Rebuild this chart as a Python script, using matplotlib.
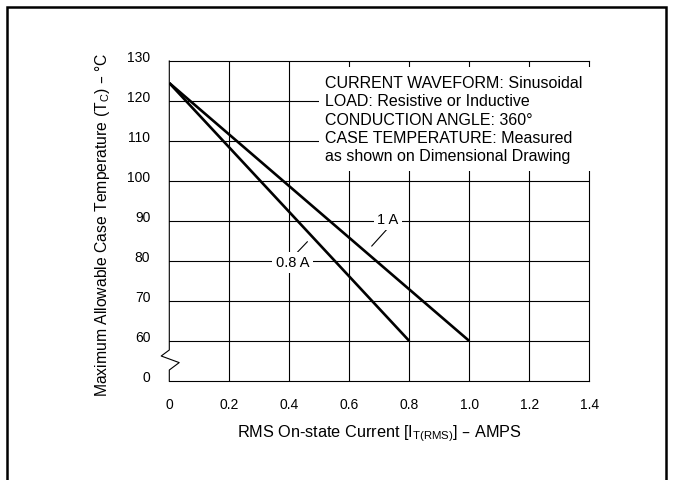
import matplotlib
matplotlib.use("Agg")
import matplotlib.pyplot as plt
from matplotlib.lines import Line2D
from matplotlib.patches import Rectangle
from matplotlib.transforms import ScaledTranslation

plt.rcParams['font.family'] = ['Liberation Sans', 'DejaVu Sans']

# ---- data ----
current_08A = [0.0, 0.8]
temp_08A = [124.5, 60.0]
current_1A = [0.0, 1.0]
temp_1A = [124.5, 60.0]

x_ticks = [0, 0.2, 0.4, 0.6, 0.8, 1.0, 1.2, 1.4]
x_tick_labels = ['0', '0.2', '0.4', '0.6', '0.8', '1.0', '1.2', '1.4']
y_ticks = [50, 60, 70, 80, 90, 100, 110, 120, 130]
y_tick_labels = ['0', '60', '70', '80', '90', '100', '110', '120', '130']

notes = ["CURRENT WAVEFORM: Sinusoidal",
         "LOAD: Resistive or Inductive",
         "CONDUCTION ANGLE: 360°",
         "CASE TEMPERATURE: Measured",
         "as shown on Dimensional Drawing"]

W, H = 673, 480
fig = plt.figure(figsize=(W / 100, H / 100), dpi=100)
ax = fig.add_axes([169.3 / W, 1 - 381 / H, 420 / W, 320 / H])

ax.set_xlim(0, 1.4)
ax.set_ylim(50, 130)

# grid
for xv in x_ticks[1:-1]:
    ax.plot([xv, xv], [50, 130], color='black', lw=0.8, zorder=1)
for yv in y_ticks[1:-1]:
    ax.plot([0, 1.4], [yv, yv], color='black', lw=0.8, zorder=1)

# curves
ax.plot(current_08A, temp_08A, color='black', lw=1.9, zorder=3, solid_capstyle='butt')
ax.plot(current_1A, temp_1A, color='black', lw=1.9, zorder=3, solid_capstyle='butt')

# spines
for s in ['top', 'right', 'bottom']:
    ax.spines[s].set_linewidth(0.8)
ax.spines['left'].set_visible(False)
# left spine with axis break
ax.plot([0, 0, 0.033, -0.027, 0, 0], [50, 52.75, 54.6, 56.25, 57.75, 130],
        color='black', lw=0.8, clip_on=False, zorder=4)

ax.set_xticks(x_ticks)
ax.set_xticklabels(x_tick_labels)
ax.set_yticks(y_ticks)
ax.set_yticklabels(y_tick_labels)
ax.tick_params(length=0, labelsize=10)
ax.tick_params(axis='y', pad=13.7)
ax.tick_params(axis='x', pad=12.5)
off = ScaledTranslation(0, 4 / 100, fig.dpi_scale_trans)
for lab in ax.get_yticklabels():
    lab.set_transform(lab.get_transform() + off)

# notes box
ax.add_patch(Rectangle((0.499, 102.4), 0.915, 26.1, facecolor='white',
                       edgecolor='none', zorder=5, clip_on=False))
ax.text(0.519, 124.6, "\n".join(notes), fontsize=11.5, va='top', ha='left',
        linespacing=1.27, zorder=6,
        transform=ax.transData + ScaledTranslation(0, 6.5 / 100, fig.dpi_scale_trans))

# curve labels
ax.text(0.729, 90.3, "1 A", fontsize=10.5, ha='center', va='center', zorder=6,
        bbox=dict(facecolor='white', edgecolor='none', pad=2.5))
ax.plot([0.725, 0.675], [87.9, 83.75], color='black', lw=0.8, zorder=2)
ax.text(0.411, 79.6, "0.8 A", fontsize=10.5, ha='center', va='center', zorder=6,
        bbox=dict(facecolor='white', edgecolor='none', pad=2.5))
ax.plot([0.427, 0.46], [82.2, 84.8], color='black', lw=0.8, zorder=2)

ax.set_xlabel(r"RMS On-state Current [I$_{\mathregular{T(RMS)}}$] – AMPS", fontsize=11.7, labelpad=8)
ax.set_ylabel(r"Maximum Allowable Case Temperature (T$_{\mathregular{C}}$) – °C", fontsize=11.3)
ax.yaxis.set_label_coords(-0.1355, 0.4875)

# outer frame
fx = lambda px: px / W
fy = lambda py: 1 - py / H
fig.add_artist(Line2D([fx(7), fx(7), fx(666), fx(666)], [fy(490), fy(7), fy(7), fy(490)],
                      color='black', lw=1.8, solid_joinstyle='miter'))

fig.savefig("out.png", dpi=100)
